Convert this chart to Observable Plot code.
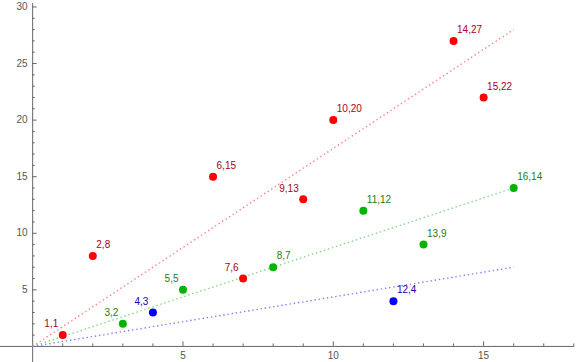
<!DOCTYPE html>
<html>
<head>
<meta charset="utf-8">
<script src="https://cdn.jsdelivr.net/npm/d3@7"></script>
<script src="https://cdn.jsdelivr.net/npm/@observablehq/plot@0.6"></script>
<style>
  html, body { margin: 0; padding: 0; background: #fff; }
</style>
</head>
<body>
<div id="chart"></div>
<script>
// ---- data ----
const redX = [1, 2, 6, 7, 9, 10, 14, 15];
const redY = [1, 8, 15, 6, 13, 20, 27, 22];
const greenX = [3, 5, 8, 11, 13, 16];
const greenY = [2, 5, 7, 12, 9, 14];
const blueX = [4, 12];
const blueY = [3, 4];
const groups = ["red", "green", "blue"];
const slopes = [1.75, 0.875, 0.4375];   // fitted lines y = m x
const fitRange = [0, 16];
const leftLabels = ["1,1", "3,2", "4,3", "5,5", "7,6", "9,13"];
const xMajor = [5, 10, 15];
const yMajor = [5, 10, 15, 20, 25, 30];
const xMinor = d3.range(1, 19);
const yMinor = d3.range(1, 31);

const pointColor = {red: "#ff0000", green: "#00b400", blue: "#0000ff"};
const lineColor = {red: "#ff8080", green: "#80d880", blue: "#8080ff"};
const labelColor = {red: "#a8001a", green: "#2a7a10", blue: "#1a00a8"};

const pts = [];
const addPts = (xs, ys, g) => xs.forEach((x, i) => pts.push({x, y: ys[i], g, label: `${x},${ys[i]}`}));
addPts(redX, redY, "red");
addPts(greenX, greenY, "green");
addPts(blueX, blueY, "blue");
const leftPts = pts.filter(d => leftLabels.includes(d.label));
const rightPts = pts.filter(d => !leftLabels.includes(d.label));

const fits = [];
groups.forEach((g, i) => fitRange.forEach(x => fits.push({g, x, y: slopes[i] * x})));

const W = 576, H = 362;
const xDom = [-1.07, 18.09], yDom = [-1.42, 30.57];
const pxX = (xDom[1] - xDom[0]) / W;   // data units per px
const pxY = (yDom[1] - yDom[0]) / H;
const axisColor = "#666";
const textColor = "#555";

const chart = Plot.plot({
  width: W, height: H,
  marginTop: 0, marginBottom: 0, marginLeft: 0, marginRight: 0,
  style: {fontFamily: "'Liberation Sans', Arial, sans-serif", fontSize: "10px", background: "#fff"},
  x: {domain: xDom, axis: null},
  y: {domain: yDom, axis: null},
  marks: [
    // axes
    Plot.ruleY([0], {x1: xDom[0], x2: 18.03, stroke: axisColor, strokeWidth: 1}),
    Plot.ruleX([0], {y1: yDom[0], y2: 30.3, stroke: axisColor, strokeWidth: 1}),
    Plot.ruleX(xMinor.filter(v => !xMajor.includes(v)), {y1: 0, y2: 2.5 * pxY, stroke: axisColor}),
    Plot.ruleX(xMajor, {y1: 0, y2: 4.5 * pxY, stroke: axisColor}),
    Plot.ruleY(yMinor.filter(v => !yMajor.includes(v)), {x1: 0, x2: 2.5 * pxX, stroke: axisColor}),
    Plot.ruleY(yMajor, {x1: 0, x2: 4.5 * pxX, stroke: axisColor}),
    Plot.text(xMajor, {x: d => d, y: 0, dy: 9, text: d => String(d), fill: textColor, lineAnchor: "middle"}),
    Plot.text(yMajor, {x: 0, y: d => d, dx: -5, text: d => String(d), fill: textColor, textAnchor: "end", lineAnchor: "middle"}),
    // fitted dotted lines
    Plot.line(fits, {x: "x", y: "y", z: "g", stroke: d => lineColor[d.g], strokeWidth: 1.4, strokeDasharray: "1.4 2.8", strokeLinecap: "butt"}),
    // points
    Plot.dot(pts, {x: "x", y: "y", r: 4, fill: d => pointColor[d.g], stroke: "none"}),
    // labels
    Plot.text(rightPts, {x: "x", y: "y", text: "label", dx: 3.5, dy: -11, textAnchor: "start", lineAnchor: "middle", fill: d => labelColor[d.g]}),
    Plot.text(leftPts, {x: "x", y: "y", text: "label", dx: -4.5, dy: -11, textAnchor: "end", lineAnchor: "middle", fill: d => labelColor[d.g]})
  ]
});
document.getElementById("chart").appendChild(chart);
</script>
</body>
</html>
